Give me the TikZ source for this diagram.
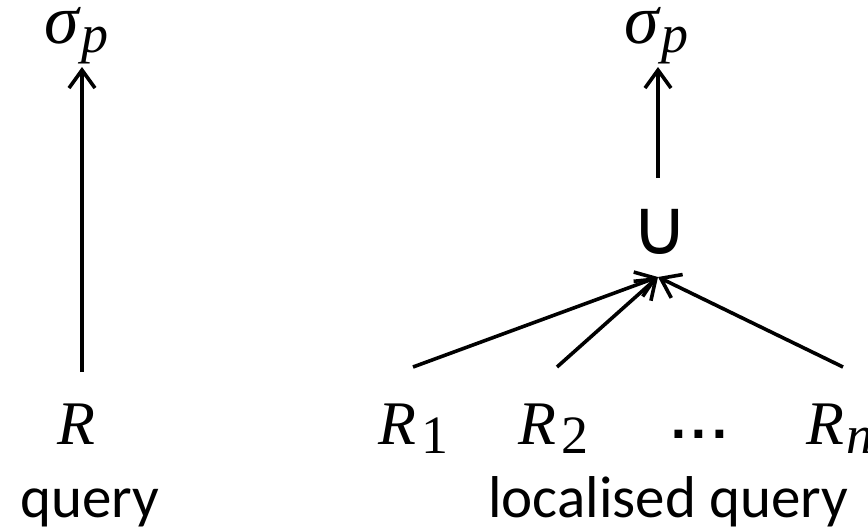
\documentclass[tikz,border=0pt]{standalone}
\usepackage{fontspec}
\setmainfont{Carlito}
\newfontfamily\rfont{Liberation Serif}
\newfontfamily\symfont{DejaVu Sans}
\usetikzlibrary{arrows.meta}
\newcommand{\mysub}[2]{\kern#2\raisebox{-9pt}{\fontsize{54}{58}\selectfont #1}}
\tikzset{
  mathlbl/.style={inner sep=0pt, anchor=base west, font=\fontsize{62}{66}\selectfont\rfont},
  sigmalbl/.style={inner sep=0pt, anchor=base west, font=\fontsize{70}{74}\selectfont\rfont},
  txtlbl/.style={inner sep=0pt, anchor=base west, font=\fontsize{59}{64}\selectfont},
  edge/.style={line width=3.6pt, -{Straight Barb[length=18pt,width=26pt,line width=3.6pt]}}
}
\begin{document}
\begin{tikzpicture}[x=1pt,y=-1pt]
\useasboundingbox (0,0) rectangle (868,530);
% left tree
\node[sigmalbl] (s1) at (44,43) {\itshape σ\mysub{p}{3pt}};
\node[mathlbl] (r) at (57,444) {\itshape R};
\node[txtlbl] (q1) at (20,517) {query};
\coordinate (s1b) at (82,67);
\coordinate (rt) at (82,372);
\draw[edge] (rt) -- (s1b);
% right tree
\node[sigmalbl] (s2) at (624,43) {\itshape σ\mysub{p}{3pt}};
\node[inner sep=0pt, font=\fontsize{78}{82}\selectfont\symfont] (u) at (660,232) {∪};
\coordinate (s2b) at (658,67);
\coordinate (ut) at (658,178);
\draw[edge] (ut) -- (s2b);
\coordinate (ub) at (658,277);
\node[mathlbl] (r1) at (378,444) {\itshape R\mysub{\upshape 1}{5pt}};
\node[mathlbl] (r2) at (518,444) {\itshape R\mysub{\upshape 2}{5pt}};
\node[inner sep=0pt, anchor=base west, font=\fontsize{44}{50}\selectfont\symfont\bfseries] (dots) at (670,438) {.\kern4pt.\kern4pt.};
\node[mathlbl] (rn) at (806,444) {\itshape R\mysub{n}{2pt}};
\coordinate (r1t) at (413,367);
\coordinate (r2t) at (557,367);
\coordinate (rnt) at (843,367);
\draw[edge] (r1t) -- (ub);
\draw[edge] (r2t) -- (ub);
\draw[edge] (rnt) -- (ub);
\node[txtlbl] (q2) at (488,517) {localised query};
\end{tikzpicture}
\end{document}
